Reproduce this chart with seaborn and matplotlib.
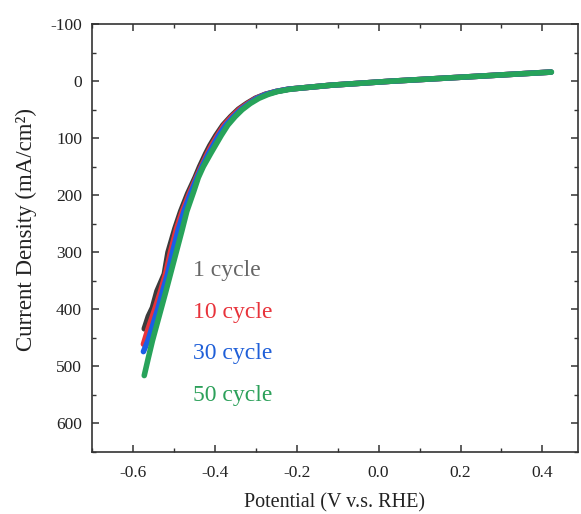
import numpy as np
import pandas as pd
import matplotlib
matplotlib.use("Agg")
import matplotlib.pyplot as plt
import seaborn as sns
from matplotlib.ticker import MultipleLocator

# LSV curves (potential in V vs RHE, current density in mA/cm2)
pot_1 = [-0.572, -0.562, -0.552, -0.541, -0.523, -0.514, -0.497, -0.483, -0.466, -0.448, -0.437, -0.422,
         -0.412, -0.397, -0.380, -0.361, -0.342, -0.322, -0.301, -0.277, -0.250, -0.220, -0.190, -0.116,
         0.030, 0.226, 0.420]
cur_1 = [434, 412, 397, 368, 338, 300, 258, 228, 197, 169, 150, 127,
         113, 95, 77, 62, 49, 39, 30, 23, 18, 14, 12, 7,
         0, -8, -16]

pot_10 = [-0.574, -0.563, -0.545, -0.532, -0.520, -0.508, -0.493, -0.479, -0.462, -0.445, -0.433, -0.418,
          -0.408, -0.393, -0.377, -0.358, -0.339, -0.319, -0.299, -0.275, -0.250, -0.220, -0.190, -0.116,
          0.030, 0.226, 0.421]
cur_10 = [461, 435, 397, 368, 338, 300, 258, 228, 197, 169, 150, 127,
          113, 95, 77, 62, 49, 39, 30, 23, 18, 14, 12, 7,
          0, -8, -16]

pot_30 = [-0.574, -0.563, -0.550, -0.538, -0.527, -0.515, -0.503, -0.488, -0.475, -0.459, -0.443, -0.431,
          -0.415, -0.404, -0.390, -0.373, -0.354, -0.335, -0.316, -0.297, -0.274, -0.250, -0.220, -0.190,
          -0.116, 0.030, 0.226, 0.421]
cur_30 = [474, 455, 425, 397, 368, 338, 300, 258, 228, 197, 169, 150,
          127, 113, 95, 77, 62, 49, 39, 30, 23, 18, 14, 12,
          7, 0, -8, -16]

pot_50 = [-0.572, -0.562, -0.552, -0.541, -0.530, -0.519, -0.508, -0.494, -0.480, -0.468, -0.452, -0.440,
          -0.428, -0.410, -0.397, -0.384, -0.368, -0.350, -0.333, -0.313, -0.292, -0.269, -0.246, -0.215,
          -0.190, -0.116, 0.030, 0.226, 0.422]
cur_50 = [516, 485, 455, 426, 397, 368, 338, 300, 262, 228, 195, 169,
          150, 127, 111, 95, 77, 62, 50, 39, 30, 23, 18, 14,
          12, 7, 0, -8, -16]

cycles = ["1 cycle", "10 cycle", "30 cycle", "50 cycle"]
line_colors = ["#3c3c3c", "#e8333b", "#1a5fe6", "#27a35a"]
text_colors = ["#666666", "#e8333b", "#1f5fd8", "#2ca05a"]

frames = []
for name, p, c in zip(cycles, [pot_1, pot_10, pot_30, pot_50], [cur_1, cur_10, cur_30, cur_50]):
    frames.append(pd.DataFrame({"Potential": p, "Current": c, "cycle": name}))
df = pd.concat(frames, ignore_index=True)

sns.set_theme(style="ticks")
plt.rcParams["font.family"] = ["Liberation Serif", "DejaVu Serif"]

fig = plt.figure(figsize=(5.81, 5.14), dpi=100)
ax = fig.add_axes([0.158, 0.1206, 0.837, 0.8324])

sns.lineplot(data=df, x="Potential", y="Current", hue="cycle", hue_order=cycles,
             palette=line_colors, sort=False, estimator=None, lw=4,
             legend=False, ax=ax)
for ln in ax.get_lines():
    ln.set_solid_capstyle("round")
    ln.set_solid_joinstyle("round")

ax.set_xlim(-0.7, 0.487)
ax.set_ylim(650, -100)
ax.xaxis.set_minor_locator(MultipleLocator(0.1))
ax.yaxis.set_minor_locator(MultipleLocator(50))
ax.set_xticks([-0.6, -0.4, -0.2, 0.0, 0.2, 0.4])
ax.set_xticklabels(["-0.6", "-0.4", "-0.2", "0.0", "0.2", "0.4"])
ax.set_yticks([-100, 0, 100, 200, 300, 400, 500, 600])
ax.set_yticklabels(["-100", "0", "100", "200", "300", "400", "500", "600"])

ax.tick_params(which="both", direction="in", top=True, right=True, color="#333333",
               labelsize=12.5, labelcolor="#222222")
ax.tick_params(axis="x", which="major", pad=9)
ax.tick_params(axis="y", which="major", pad=7)
ax.tick_params(which="major", length=5, width=1.1)
ax.tick_params(which="minor", length=3, width=1.0)
for s in ax.spines.values():
    s.set_linewidth(1.2)
    s.set_color("#333333")

ax.set_xlabel("Potential (V v.s. RHE)", fontsize=14.5, color="#222222", labelpad=9)
ax.set_ylabel("Current Density (mA/cm²)", fontsize=16.5, color="#222222")
ax.yaxis.set_label_coords(-0.112, 0.52)

ypos = [0.425, 0.327, 0.231, 0.133]
for name, col, yp in zip(cycles, text_colors, ypos):
    ax.text(0.208, yp, name, color=col, fontsize=17, transform=ax.transAxes,
            ha="left", va="center")

fig.savefig("out.png", dpi=100)
